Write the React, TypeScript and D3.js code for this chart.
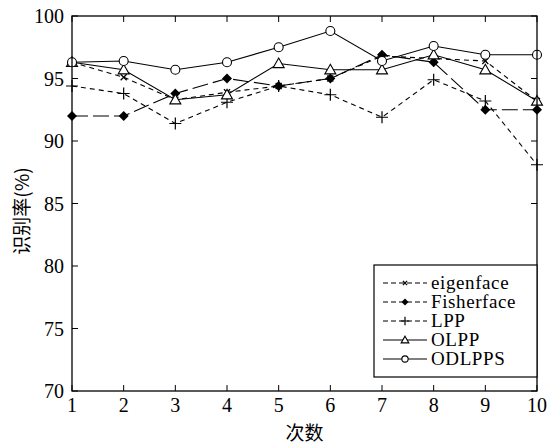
import React from 'react'
import * as d3 from 'd3'

const runs = [1, 2, 3, 4, 5, 6, 7, 8, 9, 10]
const eigenface = [96.3, 95.1, 93.3, 93.9, 94.4, 95.0, 96.8, 96.6, 96.4, 93.2]
const fisherface = [92.0, 92.0, 93.8, 95.0, 94.4, 95.0, 96.9, 96.3, 92.5, 92.5]
const lpp = [94.4, 93.8, 91.4, 93.1, 94.4, 93.7, 91.9, 94.9, 93.2, 88.1]
const olpp = [96.3, 95.7, 93.3, 93.7, 96.2, 95.7, 95.7, 96.9, 95.7, 93.2]
const odlpps = [96.3, 96.4, 95.7, 96.3, 97.5, 98.8, 96.4, 97.6, 96.9, 96.9]
const yTicks = [70, 75, 80, 85, 90, 95, 100]

type Marker = 'x' | 'diamond' | 'plus' | 'triangle' | 'circle'

const series: { name: string; values: number[]; dash: string; marker: Marker }[] = [
  { name: 'eigenface', values: eigenface, dash: '5,4', marker: 'x' },
  { name: 'Fisherface', values: fisherface, dash: '16,5', marker: 'diamond' },
  { name: 'LPP', values: lpp, dash: '5,4', marker: 'plus' },
  { name: 'OLPP', values: olpp, dash: '', marker: 'triangle' },
  { name: 'ODLPPS', values: odlpps, dash: '', marker: 'circle' },
]

const W = 559
const H = 445
const m = { left: 72, right: 22, top: 16, bottom: 54 }

function MarkerShape({ type, x, y, k = 1 }: { type: Marker; x: number; y: number; k?: number }) {
  const s = 'black'
  switch (type) {
    case 'x': {
      const a = 3 * k
      return <path d={`M${x - a},${y - a}L${x + a},${y + a}M${x - a},${y + a}L${x + a},${y - a}`} stroke={s} strokeWidth={1.2} />
    }
    case 'diamond': {
      const a = 5 * k
      return <path d={`M${x},${y - a}L${x + a},${y}L${x},${y + a}L${x - a},${y}Z`} fill={s} />
    }
    case 'plus': {
      const a = 6 * k
      return <path d={`M${x - a},${y}L${x + a},${y}M${x},${y - a}L${x},${y + a}`} stroke={s} strokeWidth={1.2} />
    }
    case 'triangle': {
      const a = 5.5 * k
      return <path d={`M${x},${y - a}L${x + a},${y + a * 0.75}L${x - a},${y + a * 0.75}Z`} fill="white" stroke={s} strokeWidth={1.1} />
    }
    case 'circle':
      return <circle cx={x} cy={y} r={4.5 * k} fill="white" stroke={s} strokeWidth={1.1} />
  }
}

export default function App() {
  const x = d3.scaleLinear().domain([1, 10]).range([m.left, W - m.right])
  const y = d3.scaleLinear().domain([70, 100]).range([H - m.bottom, m.top])
  const line = d3.line<number>().x((_, i) => x(runs[i])).y(d => y(d))

  const x0 = x(1), x1 = x(10), y0 = y(70), y1 = y(100)
  const font = '"Liberation Serif", "Times New Roman", serif'
  const cjk = '"Noto Sans CJK SC", sans-serif'

  const lgX = 374, lgY = 265, lgW = x1 - 374, lgH = 112

  return (
    <svg width={W} height={H} style={{ position: 'absolute', left: 0, top: 0, background: 'white' }}>
      {/* ticks */}
      {runs.map(r => (
        <g key={'xt' + r}>
          <line x1={x(r)} x2={x(r)} y1={y0} y2={y0 - 6} stroke="black" />
          <line x1={x(r)} x2={x(r)} y1={y1} y2={y1 + 6} stroke="black" />
          <text x={x(r)} y={412} textAnchor="middle" fontFamily={font} fontSize={20}>{r}</text>
        </g>
      ))}
      {yTicks.map(t => (
        <g key={'yt' + t}>
          <line x1={x0} x2={x0 + 6} y1={y(t)} y2={y(t)} stroke="black" />
          <line x1={x1} x2={x1 - 6} y1={y(t)} y2={y(t)} stroke="black" />
          <text x={64} y={y(t)} dy="0.35em" textAnchor="end" fontFamily={font} fontSize={20}>{t}</text>
        </g>
      ))}

      {/* series */}
      {series.map(s => (
        <g key={s.name}>
          <path d={line(s.values) || ''} fill="none" stroke="black" strokeWidth={1.1} strokeDasharray={s.dash || undefined} />
          {s.values.map((v, i) => (
            <MarkerShape key={i} type={s.marker} x={x(runs[i])} y={y(v)} />
          ))}
        </g>
      ))}

      <rect x={x0} y={y1} width={x1 - x0} height={y0 - y1} fill="none" stroke="black" strokeWidth={1.3} />

      {/* legend */}
      <rect x={lgX} y={lgY} width={lgW} height={lgH} fill="white" stroke="black" strokeWidth={1.2} />
      {series.map((s, i) => {
        const ly = 283 + i * 19
        return (
          <g key={'lg' + s.name}>
            <line x1={383} x2={427} y1={ly} y2={ly} stroke="black" strokeWidth={1.1} strokeDasharray={s.dash ? '5,3' : undefined} />
            <MarkerShape type={s.marker} x={405} y={ly} k={0.7} />
            <text x={431} y={ly} dy="0.33em" fontFamily={font} fontSize={19} letterSpacing={0.6}>{s.name}</text>
          </g>
        )
      })}

      {/* axis titles */}
      <text x={(x0 + x1) / 2} y={440} textAnchor="middle" fontFamily={cjk} fontSize={19}>次数</text>
      <text transform={`translate(29,${211}) rotate(-90)`} textAnchor="middle" fontFamily={cjk} fontSize={19}>识别率(%)</text>
    </svg>
  )
}
